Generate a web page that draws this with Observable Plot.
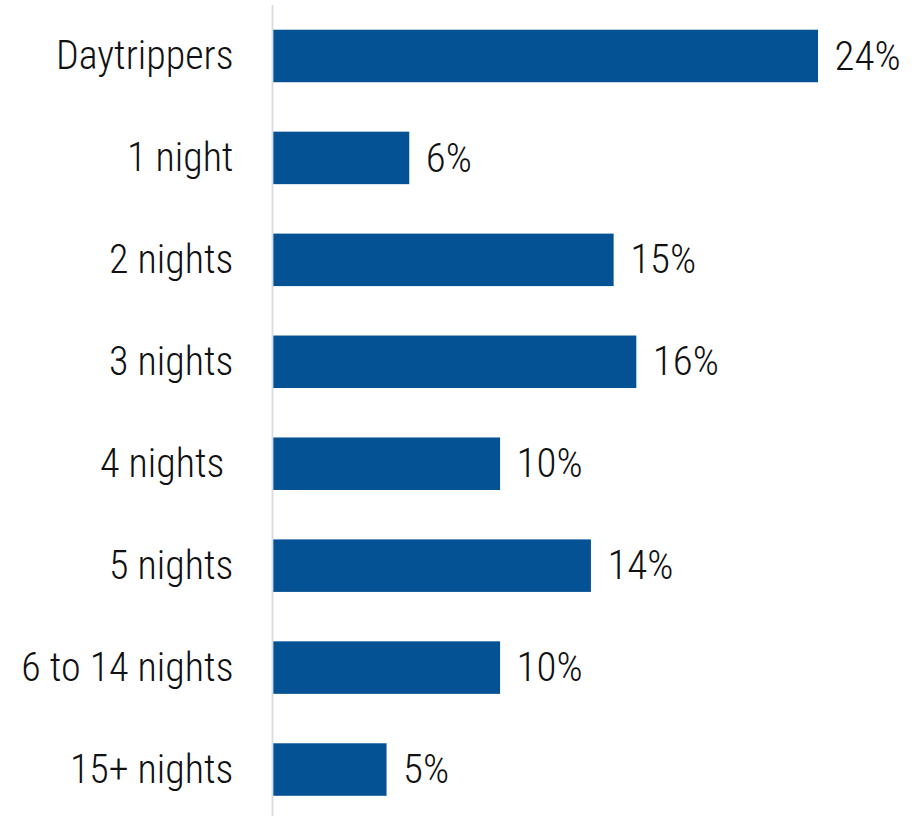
<!DOCTYPE html>
<html>
<head>
<meta charset="utf-8">
<script src="https://cdn.jsdelivr.net/npm/d3@7"></script>
<script src="https://cdn.jsdelivr.net/npm/@observablehq/plot@0.6"></script>
<style>
  html, body { margin: 0; padding: 0; background: #fff; overflow: hidden; }
  #chart svg { display: block; }
</style>
</head>
<body>
<div id="chart"></div>
<script>
const categories = ["Daytrippers", "1 night", "2 nights", "3 nights", "4 nights ", "5 nights", "6 to 14 nights", "15+ nights"];
const values = [24, 6, 15, 16, 10, 14, 10, 5];
const valueLabels = ["24%", "6%", "15%", "16%", "10%", "14%", "10%", "5%"];

const data = categories.map((c, i) => ({category: c, value: values[i], label: valueLabels[i]}));
const font = "'Roboto Condensed', 'Liberation Sans Narrow', 'Arial Narrow', 'DejaVu Sans Condensed', sans-serif";

const chart = Plot.plot({
  width: 922,
  height: 816,
  marginLeft: 273,
  marginRight: 104,
  marginTop: 5,
  marginBottom: -4.5,
  style: {fontFamily: font, fontWeight: 300, background: "#fff", overflow: "visible"},
  x: {domain: [0, 24], axis: null},
  y: {domain: categories, paddingInner: 0.485, paddingOuter: 0.2425, round: false, axis: null},
  marks: [
    Plot.barX(data, {y: "category", x: "value", fill: "#045194"}),
    Plot.ruleX([0], {stroke: "#d6dbe6", strokeWidth: 1.8, dx: -1}),
    Plot.axisY({tickSize: 0, tickPadding: 40, label: null, fontSize: 40, fill: "#111", fontFamily: font, fontWeight: 300}),
    Plot.text(data, {y: "category", x: "value", text: "label", textAnchor: "start", dx: 16, fontSize: 41, fill: "#111", fontFamily: font, fontWeight: 300})
  ]
});
document.getElementById("chart").appendChild(chart);
</script>
</body>
</html>
